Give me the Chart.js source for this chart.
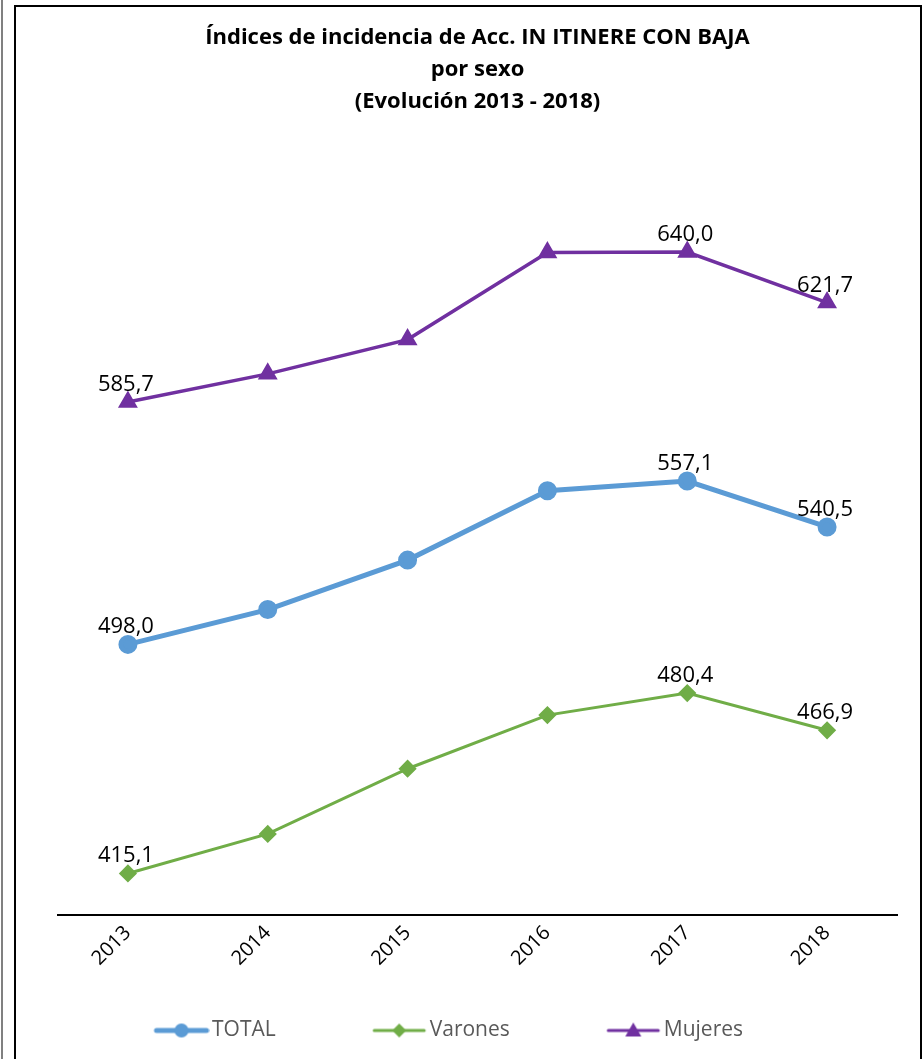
<!DOCTYPE html>
<html>
<head>
<meta charset="utf-8">
<script src="https://cdn.jsdelivr.net/npm/chart.js@4.4.1/dist/chart.umd.min.js"></script>
<style>
    body { margin: 0; background: #fff; }
    #edge { position: absolute; left: 1px; top: 0; width: 0; height: 1059px; border-left: 2px solid #808080; }
    #box { position: absolute; left: 14px; top: 5px; width: 904px; height: 1060px; border: 2px solid #000; background: #fff; }
    #chart { display: block; }
</style>
</head>
<body>
<div id="edge"></div>
<div id="box"><canvas id="chart" width="904" height="1052"></canvas></div>
<script>
const years = ['2013', '2014', '2015', '2016', '2017', '2018'];
const total = [498.0, 510.6, 528.5, 553.6, 557.1, 540.5];
const varones = [415.1, 429.4, 453.0, 472.4, 480.4, 466.9];
const mujeres = [585.7, 595.9, 608.3, 639.8, 640.0, 621.7];
// puntos con etiqueta (los demas no llevan valor)
const labelIdx = [0, 4, 5];

const azul = '#5B9BD5';
const verde = '#70AD47';
const morado = '#7030A0';

// caja de leyenda ancha; el icono (linea + marcador) va pegado a la derecha
const CAJA = 100;
const SOBRA = 8;
function legendIcon(color, style, lw) {
    const c = document.createElement('canvas');
    c.width = CAJA + 2 * SOBRA;
    c.height = 20;
    const g = c.getContext('2d');
    g.translate(c.width - 56, 0);
    g.strokeStyle = color;
    g.fillStyle = color;
    g.lineWidth = lw;
    g.lineCap = 'round';
    g.beginPath();
    g.moveTo(3, 10);
    g.lineTo(53, 10);
    g.stroke();
    g.beginPath();
    if (style === 'circle') {
        g.arc(28, 10, 7, 0, Math.PI * 2);
    } else if (style === 'rectRot') {
        g.moveTo(28, 3); g.lineTo(35, 10); g.lineTo(28, 17); g.lineTo(21, 10);
    } else {
        g.moveTo(28, 2); g.lineTo(36, 16); g.lineTo(20, 16);
    }
    g.closePath();
    g.fill();
    return c;
}

const valueLabels = {
    id: 'valueLabels',
    afterDatasetsDraw(chart) {
        const ctx = chart.ctx;
        ctx.save();
        ctx.font = '22px "Open Sans"';
        ctx.fillStyle = '#000';
        ctx.textAlign = 'center';
        ctx.textBaseline = 'alphabetic';
        chart.data.datasets.forEach((ds, d) => {
            const meta = chart.getDatasetMeta(d);
            labelIdx.forEach(i => {
                const p = meta.data[i];
                const txt = ds.data[i].toFixed(1).replace('.', ',');
                ctx.fillText(txt, p.x - 2, p.y - 11);
            });
        });
        ctx.restore();
    }
};

const ctx = document.getElementById('chart');
new Chart(ctx, {
    type: 'line',
    data: {
        labels: years,
        datasets: [{
            label: 'TOTAL',
            data: total,
            borderColor: azul,
            backgroundColor: azul,
            borderWidth: 5,
            pointStyle: 'circle',
            pointRadius: 7,
            pointHoverRadius: 7,
            legendIcon: legendIcon(azul, 'circle', 5)
        }, {
            label: 'Varones',
            data: varones,
            borderColor: verde,
            backgroundColor: verde,
            borderWidth: 3,
            pointStyle: 'rectRot',
            pointRadius: 7,
            pointHoverRadius: 7,
            legendIcon: legendIcon(verde, 'rectRot', 3)
        }, {
            label: 'Mujeres',
            data: mujeres,
            borderColor: morado,
            backgroundColor: morado,
            borderWidth: 3.5,
            pointStyle: 'triangle',
            pointRadius: 8,
            pointHoverRadius: 8,
            legendIcon: legendIcon(morado, 'triangle', 3)
        }]
    },
    options: {
        responsive: false,
        animation: false,
        layout: { padding: { left: 42, right: 23, top: 0, bottom: 8 } },
        scales: {
            x: {
                offset: true,
                grid: { display: false, drawTicks: false },
                border: { display: true, color: '#000', width: 2 },
                ticks: {
                    color: '#000',
                    font: { family: 'Open Sans', size: 20 },
                    minRotation: 45,
                    maxRotation: 45,
                    padding: 6
                }
            },
            y: {
                display: false,
                min: 400,
                max: 681
            }
        },
        plugins: {
            title: {
                display: true,
                text: ['Índices de incidencia de Acc. IN ITINERE CON BAJA', 'por sexo', '(Evolución 2013 - 2018)'],
                color: '#000',
                font: { family: 'Open Sans', size: 22, weight: 'bold', lineHeight: 1.45 },
                padding: { top: 15, bottom: 21 }
            },
            legend: {
                position: 'bottom',
                align: 'start',
                labels: {
                    usePointStyle: true,
                    pointStyleWidth: CAJA,
                    boxHeight: 20,
                    padding: 43.5,
                    color: '#595959',
                    font: { family: 'Open Sans', size: 21 },
                    generateLabels(chart) {
                        return chart.data.datasets.map((ds, i) => ({
                            text: ds.label,
                            pointStyle: ds.legendIcon,
                            fillStyle: ds.backgroundColor,
                            strokeStyle: ds.borderColor,
                            lineWidth: 0,
                            hidden: false,
                            datasetIndex: i,
                            fontColor: '#595959'
                        }));
                    }
                }
            },
            tooltip: { enabled: false }
        }
    },
    plugins: [valueLabels]
});
</script>
</body>
</html>
